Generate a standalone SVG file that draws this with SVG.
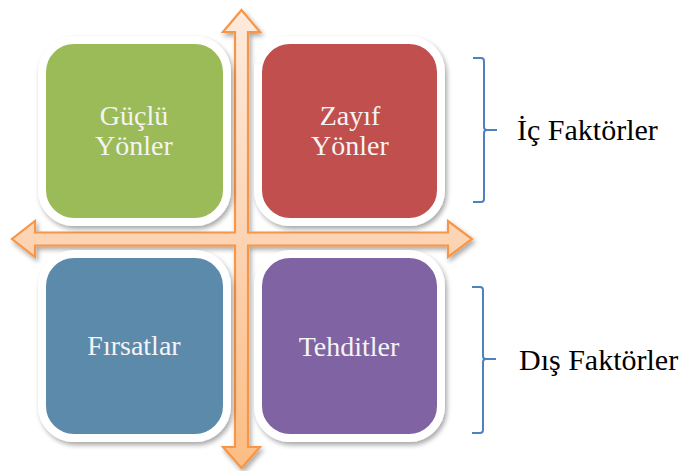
<svg xmlns="http://www.w3.org/2000/svg" width="679" height="471" viewBox="0 0 679 471">
  <defs>
    <linearGradient id="arrowFill" gradientUnits="userSpaceOnUse" x1="0" y1="10" x2="0" y2="468">
      <stop offset="0" stop-color="#FDEBDD"/>
      <stop offset="0.5" stop-color="#FCD4B4"/>
      <stop offset="1" stop-color="#FBBD83"/>
    </linearGradient>
    <filter id="shadow" x="-10%" y="-10%" width="125%" height="125%">
      <feGaussianBlur in="SourceAlpha" stdDeviation="2.5"/>
      <feOffset dx="2" dy="3" result="b"/>
      <feComponentTransfer><feFuncA type="linear" slope="0.35"/></feComponentTransfer>
      <feMerge><feMergeNode/><feMergeNode in="SourceGraphic"/></feMerge>
    </filter>
  </defs>
  <style>
    .box { stroke: #FFFFFF; stroke-width: 8; }
    .label { font-family: "Liberation Serif", "Times New Roman", serif; font-size: 28px; fill: #F4F4F4; text-anchor: middle; }
    .side { font-family: "Liberation Serif", "Times New Roman", serif; font-size: 30px; fill: #000000; }
    .brace { fill: none; stroke: #4F81BD; stroke-width: 2; }
  </style>

  <!-- four-way axis arrow -->
  <g id="connectors">
    <path filter="url(#shadow)" fill="url(#arrowFill)" stroke="#F79646" stroke-width="2.2" stroke-linejoin="miter"
      d="M241.5,10 L260,32 L248,32 L248,232.5 L448,232.5 L448,221 L472,239 L448,257 L448,245.5 L248,245.5 L248,447 L260,447 L241.5,468 L223,447 L235,447 L235,245.5 L35,245.5 L35,257 L12,239 L35,221 L35,232.5 L235,232.5 L235,32 L223,32 Z"/>
  </g>

  <g id="guclu-yonler">
    <rect class="box" filter="url(#shadow)" x="42" y="40" width="185" height="182" rx="32" fill="#9BBB59"/>
    <text class="label" x="134" y="125">Güçlü</text>
    <text class="label" x="134" y="155">Yönler</text>
  </g>

  <g id="zayif-yonler">
    <rect class="box" filter="url(#shadow)" x="258" y="40" width="183" height="182" rx="32" fill="#C0504D"/>
    <text class="label" x="350" y="125">Zayıf</text>
    <text class="label" x="350" y="155">Yönler</text>
  </g>

  <g id="firsatlar">
    <rect class="box" filter="url(#shadow)" x="42" y="254" width="185" height="184" rx="32" fill="#5B8AAB"/>
    <text class="label" x="134" y="355">Fırsatlar</text>
  </g>

  <g id="tehditler">
    <rect class="box" filter="url(#shadow)" x="258" y="254" width="183" height="184" rx="32" fill="#8064A2"/>
    <text class="label" x="349" y="356">Tehditler</text>
  </g>

  <g id="ic-faktorler">
    <path class="brace" d="M473,58 L481,58 Q484,58 484,61 L484,127 Q484,130 487,130 L497,130 M487,130 Q484,130 484,133 L484,199 Q484,202 481,202 L473,202"/>
    <text class="side" x="517" y="140">İç Faktörler</text>
  </g>

  <g id="dis-faktorler">
    <path class="brace" d="M472,287 L480,287 Q483,287 483,290 L483,356 Q483,359 486,359 L496,359 M486,359 Q483,359 483,362 L483,430 Q483,433 480,433 L472,433"/>
    <text class="side" x="519" y="370">Dış Faktörler</text>
  </g>
</svg>
